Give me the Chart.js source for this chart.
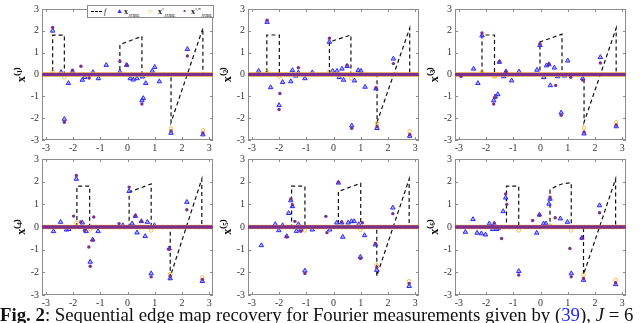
<!DOCTYPE html>
<html>
<head>
<meta charset="utf-8">
<script src="https://cdn.jsdelivr.net/npm/chart.js@4.4.1/dist/chart.umd.min.js"></script>
<style>
  html, body { margin: 0; padding: 0; background: #fff; }
  #fig { position: relative; width: 640px; height: 323px; overflow: hidden; }
  #fig canvas { position: absolute; }
  #legend { position: absolute; left: 87px; top: 5px; width: 125px; height: 11px;
            border: 1px solid #8c8c8c; background: #fff; font: 8px "Liberation Serif", serif; color: #111; }
  #legend span { position: absolute; top: 0; line-height: 11px; white-space: nowrap; }
  #legend sub, #legend sup { font-size: 5px; line-height: 0; font-style: italic; }
  #legend .dash { top: 5px; width: 11px; height: 0; border-top: 1px dashed #000; }
  #caption { position: absolute; left: 0; top: 306px; font: 18.8px "Liberation Serif", serif;
             line-height: 1; white-space: nowrap; color: #111; }
  #caption .ref { color: #2020ff; }
</style>
</head>
<body>
<div id="fig">
  <canvas id="p0"></canvas>
  <canvas id="p1"></canvas>
  <canvas id="p2"></canvas>
  <canvas id="p3"></canvas>
  <canvas id="p4"></canvas>
  <canvas id="p5"></canvas>
  <div id="legend">
    <span class="dash" style="left:3px"></span>
    <span style="left:16px"><i>f</i></span>
    <span style="left:28px;color:#2b2bff;font-size:7px">&#9650;</span>
    <span style="left:36px"><b>x</b><sub>JHBL</sub></span>
    <span style="left:60px;color:#edb120;font-size:8px">&#9675;</span>
    <span style="left:70px"><b>x</b><sup>s</sup><sub>JHBL</sub></span>
    <span style="left:95px;color:#7e2f8e;font-size:9px">&#8226;</span>
    <span style="left:103px"><b>x</b><sup>s,n</sup><sub>JHBL</sub></span>
  </div>
  <div id="caption"><b>Fig. 2</b>: Sequential edge map recovery for Fourier measurements given by (<span class="ref">39</span>), <i>J</i> = 6</div>
</div>
<script>
"use strict";

// Tick values
var xTicks = [-3, -2, -1, 0, 1, 2, 3];
var yTicks = [-3, -2, -1, 0, 1, 2, 3];
var yTitles = ['x\u207D\u00B9\u207E', 'x\u207D\u00B2\u207E', 'x\u207D\u00B3\u207E',
               'x\u207D\u2074\u207E', 'x\u207D\u2075\u207E', 'x\u207D\u2076\u207E'];

// Sampling grid (most recovered values sit at zero)
var gridN = 128;
var xGrid = [];
for (var k = 0; k < gridN; k++) xGrid.push(-Math.PI + 2 * Math.PI * k / gridN);

// True edge map f, one polyline per panel
var fLines = [
  [[-3.1416,0],[-2.75,0],[-2.75,1.8],[-2.32,1.8],[-2.32,0],[-0.28,0],[-0.28,1.37],[0.53,1.75],[0.53,0],[1.60,0],[1.60,-2.19],[2.77,2.12],[2.77,0],[3.1416,0]],
  [[-3.1416,0],[-2.45,0],[-2.45,1.81],[-1.99,1.81],[-1.99,0],[-0.15,0],[-0.15,1.49],[0.64,1.81],[0.64,0],[1.60,0],[1.60,-2.19],[2.80,2.12],[2.80,0],[3.1416,0]],
  [[-3.1416,0],[-2.15,0],[-2.15,1.81],[-1.69,1.81],[-1.69,0],[-0.02,0],[-0.02,1.49],[0.79,1.85],[0.79,0],[1.60,0],[1.60,-2.19],[2.78,2.12],[2.78,0],[3.1416,0]],
  [[-3.1416,0],[-1.86,0],[-1.86,1.8],[-1.39,1.8],[-1.39,0],[0.06,0],[0.06,1.54],[0.87,1.9],[0.87,0],[1.57,0],[1.57,-2.2],[2.73,2.12],[2.73,0],[3.1416,0]],
  [[-3.1416,0],[-1.54,0],[-1.54,1.8],[-1.05,1.8],[-1.05,0],[0.18,0],[0.18,1.57],[1.0,1.93],[1.0,0],[1.59,0],[1.59,-2.17],[2.78,2.12],[2.78,0],[3.1416,0]],
  [[-3.1416,0],[-1.25,0],[-1.25,1.8],[-0.8,1.8],[-0.8,0],[0.35,0],[0.35,1.64],[0.6,1.82],[0.85,1.92],[1.13,1.95],[1.13,0],[1.58,0],[1.58,-2.1],[2.76,2.12],[2.76,0],[3.1416,0]]
];

// x_JHBL: non-zero values (blue triangles)
var triPts = [
  [[-2.75,2.0],[-2.44,0.1],[-2.32,-2.04],[-2.17,-0.4],[-2.02,0.13],[-1.66,-0.25],[-1.57,-0.13],[-1.27,0.1],[-1.07,-0.18],[-0.78,0.43],[-0.28,0.12],[-0.03,0.43],[0.10,-0.18],[0.21,-0.24],[0.35,-0.18],[0.53,-1.19],[0.55,-0.1],[0.58,-1.09],[0.67,-0.4],[0.91,0.16],[1.0,0.34],[1.17,-0.32],[1.60,-2.68],[2.2,1.16],[2.77,-2.75]],
  [[-2.75,0.16],[-2.44,2.4],[-2.31,-0.59],[-2.0,-1.41],[-1.87,-0.35],[-1.57,-0.32],[-1.51,0.19],[-1.39,-0.06],[-1.29,0.09],[-1.05,-0.18],[-0.78,0.09],[-0.15,1.49],[-0.03,0.16],[0.13,0.16],[0.21,-0.13],[0.31,0.26],[0.37,-0.25],[0.50,0.38],[0.67,-2.34],[0.77,-0.28],[0.91,0.19],[1.01,0.16],[1.16,-0.57],[1.56,-0.65],[1.60,-2.46],[2.2,0.72],[2.80,-2.82]],
  [[-2.46,0.26],[-2.30,-0.4],[-2.15,1.78],[-1.72,-1.19],[-1.66,-1.01],[-1.57,-0.91],[-1.51,0.57],[-1.35,-0.09],[-1.27,0.13],[-1.06,-0.28],[-0.79,0.13],[-0.13,0.21],[-0.02,1.34],[0.12,-0.13],[0.22,0.41],[0.31,0.46],[0.36,-0.5],[0.51,0.31],[0.63,-0.09],[0.76,-1.75],[0.88,-0.06],[1.0,0.63],[1.55,-0.18],[1.60,-2.71],[2.2,0.79],[2.78,-2.38]],
  [[-2.72,-0.19],[-2.46,0.22],[-2.24,-0.12],[-2.16,-0.1],[-1.88,2.12],[-1.66,0.19],[-1.52,-0.19],[-1.37,-1.54],[-1.28,-0.56],[-1.08,-0.19],[-0.17,0.07],[0.06,1.58],[0.17,0.15],[0.29,0.48],[0.35,-0.25],[0.51,0.25],[0.65,-0.41],[0.73,0.22],[0.87,-2.05],[0.99,0.07],[1.53,-0.95],[1.57,-2.27],[2.18,1.1],[2.75,-2.39]],
  [[-2.65,-0.81],[-2.14,0.12],[-2.01,-0.15],[-1.87,0.07],[-1.72,-0.41],[-1.65,0.61],[-1.57,1.17],[-1.51,0.91],[-1.36,-0.18],[-1.29,0.12],[-1.2,-0.1],[-1.05,-1.93],[-0.78,-0.12],[-0.14,-0.12],[0.12,0.19],[0.18,1.95],[0.30,0.19],[0.34,-0.44],[0.54,0.19],[0.66,0.25],[0.76,0.25],[0.93,0.12],[0.99,-1.32],[1.14,-0.37],[1.54,-0.78],[1.59,-1.9],[2.18,0.85],[2.78,-2.61]],
  [[-2.76,-0.22],[-2.48,0.34],[-2.33,-0.26],[-2.17,-0.29],[-2.02,-0.34],[-1.88,0.15],[-1.76,-0.1],[-1.7,0.12],[-1.61,-0.1],[-1.54,-0.04],[-1.37,0.69],[-1.28,1.29],[-0.8,-1.95],[-0.14,-0.26],[-0.04,0.54],[0.11,0.15],[0.2,0.15],[0.31,1.02],[0.35,1.24],[0.73,0.37],[0.99,0.22],[1.13,-2.05],[1.52,-0.48],[1.58,-2.34],[2.17,0.95],[2.76,-2.53]]
];

// x^s_JHBL: non-zero values (orange rings)
var ringPts = [
  [[-2.75,0.13],[-2.32,-0.13],[1.60,-2.47],[2.77,-2.56]],
  [[-2.44,0.12],[-2.0,-0.09],[-0.15,0.13],[0.64,-0.18],[1.60,-2.24],[2.80,-2.6]],
  [[-2.15,0.13],[-1.72,-0.09],[-1.66,-0.08],[1.60,-2.44],[2.78,-2.19]],
  [[-1.88,0.19],[-1.37,-0.1],[0.87,-0.15],[1.57,-2.08],[2.75,-2.23]],
  [[-1.05,-0.15],[0.99,-0.12],[1.59,-1.68],[2.78,-2.39]],
  [[-0.8,-0.15],[0.35,0.07],[1.13,-0.15],[1.58,-2.12],[2.76,-2.34]]
];

// x^{s,n}_JHBL: non-zero values (purple dots)
var dotPts = [
  [[-2.75,2.15],[-2.32,-2.19],[-2.02,0.2],[-1.71,0.38],[-1.41,-0.16],[-0.28,0.6],[-0.03,0.45],[0.53,-1.35],[1.60,-2.59],[2.2,0.85],[2.77,-2.68]],
  [[-2.44,2.49],[-2.0,-1.6],[-1.97,-0.87],[-1.29,0.31],[-0.15,1.66],[0.50,0.43],[0.67,-2.46],[1.56,-0.62],[1.60,-2.38],[2.2,0.5],[2.80,-2.75]],
  [[-2.92,-0.09],[-2.15,1.9],[-1.72,-1.35],[-1.66,-1.06],[-1.51,0.6],[-1.27,0.13],[-0.02,1.41],[0.31,0.48],[0.56,-0.5],[0.76,-1.87],[1.11,-0.13],[1.55,-0.25],[1.60,-2.63],[2.2,0.53],[2.78,-2.31]],
  [[-1.98,0.48],[-1.88,2.27],[-1.72,0.22],[-1.58,-0.15],[-1.42,-0.88],[-1.37,-1.73],[-1.28,-0.59],[-1.24,0.44],[-0.31,0.15],[0.06,1.76],[0.29,0.51],[0.51,0.25],[0.87,-2.2],[1.53,-0.98],[1.57,-2.17],[2.18,0.76],[2.75,-2.31]],
  [[-1.72,-0.44],[-1.57,1.24],[-1.51,0.98],[-1.42,0.25],[-1.2,-0.19],[-1.05,-2.05],[-0.28,0.47],[-0.24,-0.25],[0.18,1.98],[0.30,0.22],[0.99,-1.39],[1.06,0.19],[1.54,-0.73],[1.59,-1.79],[2.18,0.59],[2.78,-2.49]],
  [[-1.76,0.03],[-1.7,0.18],[-1.43,-0.51],[-1.28,1.46],[-1.24,1.0],[-0.8,-2.12],[-0.29,0.29],[-0.04,0.52],[0.35,1.32],[0.54,0.41],[1.08,-0.95],[1.13,-2.2],[1.52,-0.51],[1.58,-2.27],[2.17,0.63],[2.76,-2.46]]
];

// Panel layout: plot-area left edges and row tops/bottoms
var plotLefts = [42, 248, 455];
var plotW = 173;
var rowTop = [4, 158];
var rowBottom = [140, 295];
var yAxisW = 32, xAxisH = 13, padRight = 3;

function pts(list) {
  return list.map(function (p) { return {x: p[0], y: p[1]}; });
}
function withZeros(list) {
  return xGrid.map(function (x) { return {x: x, y: 0}; }).concat(pts(list));
}

// Box with inward ticks, MATLAB style
var framePlugin = {
  id: 'frame',
  beforeDatasetsDraw: function (chart) {
    var ctx = chart.ctx, a = chart.chartArea;
    var sx = chart.scales.x, sy = chart.scales.y;
    ctx.save();
    ctx.strokeStyle = '#8c8c8c';
    ctx.lineWidth = 1;
    ctx.strokeRect(Math.round(a.left) + 0.5, Math.round(a.top) + 0.5,
                   Math.round(a.width) - 1, Math.round(a.height) - 1);
    ctx.beginPath();
    xTicks.forEach(function (v) {
      var px = Math.round(sx.getPixelForValue(v)) + 0.5;
      ctx.moveTo(px, a.bottom); ctx.lineTo(px, a.bottom - 3);
      ctx.moveTo(px, a.top); ctx.lineTo(px, a.top + 3);
    });
    yTicks.forEach(function (v) {
      var py = Math.round(sy.getPixelForValue(v)) + 0.5;
      ctx.moveTo(a.left, py); ctx.lineTo(a.left + 3, py);
      ctx.moveTo(a.right, py); ctx.lineTo(a.right - 3, py);
    });
    ctx.stroke();
    ctx.restore();
  }
};

var tickFont = {family: '"Liberation Serif", serif', size: 10};

for (var i = 0; i < 6; i++) {
  var row = Math.floor(i / 3), col = i % 3;
  var canvas = document.getElementById('p' + i);
  var cTop = row === 0 ? 0 : 150;
  var padTop = rowTop[row] - cTop;
  canvas.width = yAxisW + plotW + padRight;
  canvas.height = rowBottom[row] - cTop + xAxisH;
  canvas.style.left = (plotLefts[col] - yAxisW) + 'px';
  canvas.style.top = cTop + 'px';

  new Chart(canvas.getContext('2d'), {
    type: 'scatter',
    data: {
      datasets: [
        {
          label: 'x^{s,n}_JHBL', data: withZeros(dotPts[i]),
          pointStyle: 'circle', pointRadius: 1.7, borderWidth: 0,
          backgroundColor: '#7e2f8e', order: 1
        },
        {
          label: 'x^s_JHBL', data: withZeros(ringPts[i]),
          pointStyle: 'circle', pointRadius: 1.8, borderWidth: 0.8,
          borderColor: '#edb120', backgroundColor: 'rgba(0,0,0,0)', order: 2
        },
        {
          label: 'x_JHBL', data: pts(triPts[i]),
          pointStyle: 'triangle', pointRadius: 2.6, borderWidth: 1,
          borderColor: '#2b2bff', backgroundColor: 'rgba(110,110,255,0.55)', order: 3
        },
        {
          label: 'f', data: pts(fLines[i]), showLine: true,
          borderColor: '#111', borderWidth: 1.2, borderDash: [4, 3],
          pointRadius: 0, fill: false, order: 4
        }
      ]
    },
    options: {
      responsive: false,
      animation: false,
      events: [],
      layout: {padding: {top: padTop, right: padRight, left: 0, bottom: 0}},
      plugins: {legend: {display: false}, tooltip: {enabled: false}},
      scales: {
        x: {
          type: 'linear', min: -Math.PI, max: Math.PI,
          grid: {display: false, drawTicks: false}, border: {display: false},
          afterBuildTicks: function (s) { s.ticks = xTicks.map(function (v) { return {value: v}; }); },
          afterFit: function (s) { s.height = xAxisH; },
          ticks: {font: tickFont, color: '#333', padding: 2, maxRotation: 0,
                  callback: function (v) { return String(v); }}
        },
        y: {
          type: 'linear', min: -3, max: 3,
          grid: {display: false, drawTicks: false}, border: {display: false},
          afterBuildTicks: function (s) { s.ticks = yTicks.map(function (v) { return {value: v}; }); },
          afterFit: function (s) { s.width = yAxisW; },
          ticks: {font: tickFont, color: '#333', padding: 3,
                  callback: function (v) { return String(v); }},
          title: {display: true, text: yTitles[i], color: '#111',
                  font: {family: '"Liberation Serif", serif', size: 12, weight: 'bold'},
                  padding: {top: 5, bottom: 0}}
        }
      }
    },
    plugins: [framePlugin]
  });
}
</script>
</body>
</html>
